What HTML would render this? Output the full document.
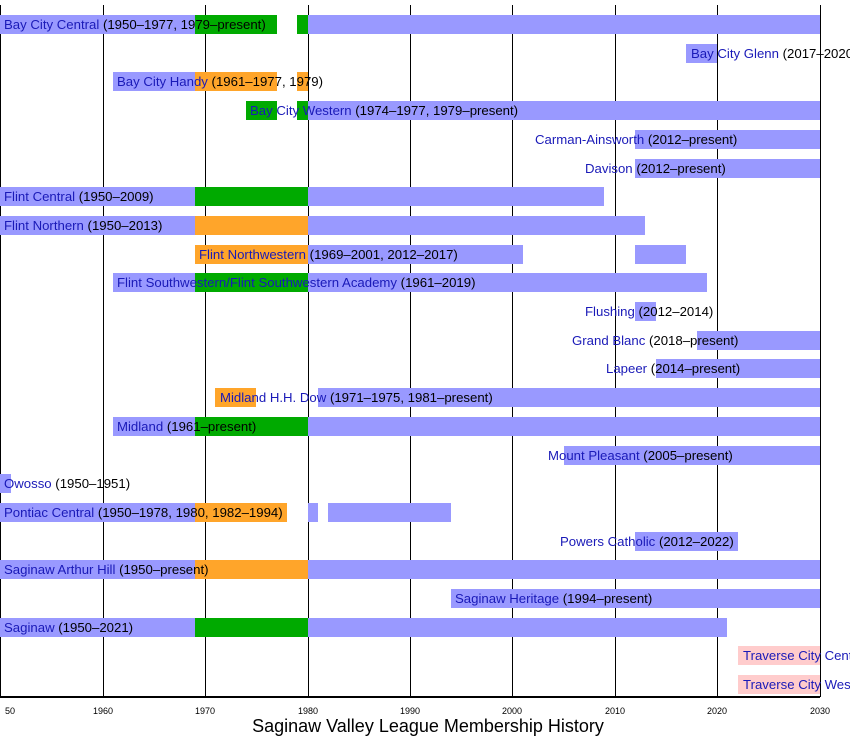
<!DOCTYPE html>
<html><head><meta charset="utf-8"><style>
html,body{margin:0;width:850px;height:745px;overflow:hidden}
body{background:#fff;position:relative;font-family:"Liberation Sans",sans-serif}
#w{position:absolute;left:0;top:0;width:850px;height:745px;overflow:hidden}
.g{position:absolute;top:5px;height:692px;width:1px;background:#000}
.b{position:absolute;height:19px}
.B{background:#9999ff}.G{background:#00aa00}.O{background:#ffa52a}.P{background:#ffcccc}
.t{position:absolute;font-size:13.2px;line-height:15px;white-space:nowrap;color:#000}
.t b{font-weight:normal;color:#1a1ab8}
.k{position:absolute;top:706px;font-size:9px;width:40px;margin-left:-20px;text-align:center}
</style></head><body>
<div id="w">
<div id="c"></div>
<div style="position:absolute;left:0;top:696px;width:820px;height:2px;background:#000"></div>
<div style="position:absolute;top:716px;left:0;width:856px;text-align:center;font-size:18px">Saginaw Valley League Membership History</div>
</div>
<script>
var X=function(y){return Math.round((y-1950)*10.24+0.3)};
var h='';
for(var y=1950;y<=2030;y+=10){h+='<div class="g" style="left:'+X(y)+'px"></div>';h+='<div class="k" style="left:'+(y==1950?10:X(y))+'px">'+(y==1950?'50':y)+'</div>';}
var R=[
[[['B',1950,1969],['G',1969,1977],['G',1979,1980],['B',1980,2030]],4,'Bay City Central','(1950–1977, 1979–present)'],
[[['B',2017,2020]],691,'Bay City Glenn','(2017–2020)'],
[[['B',1961,1969],['O',1969,1977],['O',1979,1980]],117,'Bay City Handy','(1961–1977, 1979)'],
[[['G',1974,1977],['G',1979,1980],['B',1980,2030]],250,'Bay City Western','(1974–1977, 1979–present)'],
[[['B',2012,2030]],535,'Carman-Ainsworth','(2012–present)'],
[[['B',2012,2030]],585,'Davison','(2012–present)'],
[[['B',1950,1969],['G',1969,1980],['B',1980,2009]],4,'Flint Central','(1950–2009)'],
[[['B',1950,1969],['O',1969,1980],['B',1980,2013]],4,'Flint Northern','(1950–2013)'],
[[['O',1969,1980],['B',1980,2001],['B',2012,2017]],199,'Flint Northwestern','(1969–2001, 2012–2017)'],
[[['B',1961,1969],['G',1969,1980],['B',1980,2019]],117,'Flint Southwestern/Flint Southwestern Academy','(1961–2019)'],
[[['B',2012,2014]],585,'Flushing','(2012–2014)'],
[[['B',2018,2030]],572,'Grand Blanc','(2018–present)'],
[[['B',2014,2030]],606,'Lapeer','(2014–present)'],
[[['O',1971,1975],['B',1981,2030]],220,'Midland H.H. Dow','(1971–1975, 1981–present)'],
[[['B',1961,1969],['G',1969,1980],['B',1980,2030]],117,'Midland','(1961–present)'],
[[['B',2005,2030]],548,'Mount Pleasant','(2005–present)'],
[[['B',1950,1951]],4,'Owosso','(1950–1951)'],
[[['B',1950,1969],['O',1969,1978],['B',1980,1981],['B',1982,1994]],4,'Pontiac Central','(1950–1978, 1980, 1982–1994)'],
[[['B',2012,2022]],560,'Powers Catholic','(2012–2022)'],
[[['B',1950,1969],['O',1969,1980],['B',1980,2030]],4,'Saginaw Arthur Hill','(1950–present)'],
[[['B',1994,2030]],455,'Saginaw Heritage','(1994–present)'],
[[['B',1950,1969],['G',1969,1980],['B',1980,2021]],4,'Saginaw','(1950–2021)'],
[[['P',2022,2030]],743,'Traverse City Central','(2022–present)'],
[[['P',2022,2030]],743,'Traverse City West','(2022–present)']
];
R.forEach(function(r,i){var c=24.5+i*28.7;
r[0].forEach(function(s){h+='<div class="b '+s[0]+'" style="left:'+X(s[1])+'px;width:'+(X(s[2])-X(s[1]))+'px;top:'+Math.round(c-9.5)+'px"></div>';});
h+='<div class="t" style="left:'+r[1]+'px;top:'+Math.round(c-7.5)+'px"><b>'+r[2]+'</b> '+r[3]+'</div>';});
document.getElementById('c').innerHTML=h;
</script>
</body></html>
